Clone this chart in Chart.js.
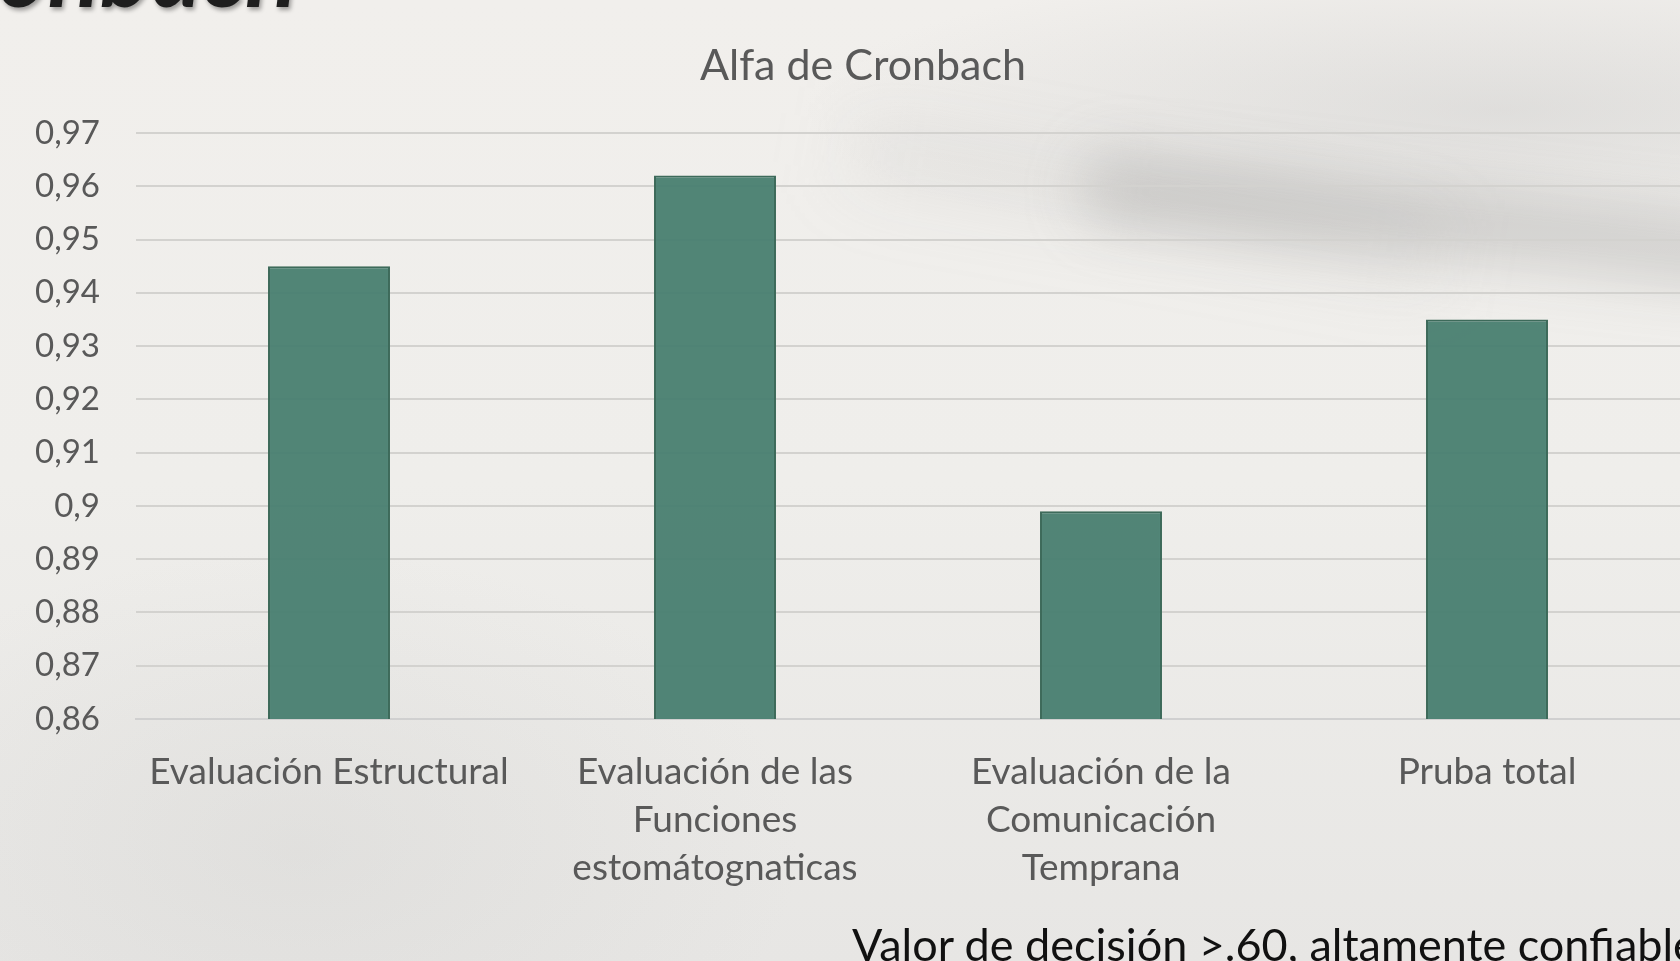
<!DOCTYPE html>
<html>
<head>
<meta charset="utf-8">
<script src="https://cdn.jsdelivr.net/npm/chart.js@4.4.1/dist/chart.umd.min.js"></script>
<style>
  html, body { margin:0; padding:0; }
  body {
    width:1680px; height:961px; overflow:hidden; position:relative;
    background:
      radial-gradient(ellipse 700px 150px at 1500px 110px, rgba(190,190,190,0.35), rgba(190,190,190,0) 100%),
      radial-gradient(ellipse 500px 300px at 300px 850px, rgba(200,200,198,0.25), rgba(200,200,198,0) 100%),
      linear-gradient(180deg, #f1efec 0%, #efeeeb 50%, #e7e6e4 100%);
  }
  #swoosh {
    position:absolute; left:1080px; top:150px; width:800px; height:70px;
    background: rgba(140,140,140,0.30); filter: blur(28px);
    transform: rotate(6deg); transform-origin: 0 50%;
    border-radius: 35px;
  }
  #swoosh2 {
    position:absolute; left:850px; top:120px; width:600px; height:60px;
    background: rgba(160,160,160,0.16); filter: blur(36px);
    transform: rotate(10deg); transform-origin: 0 50%;
  }
  #wrap { position:absolute; left:0; top:0; width:1726px; height:961px; }
  #heading {
    position:absolute; top:-78px; right:1383px; white-space:nowrap;
    font: italic bold 96px Lato, sans-serif; line-height:96px; color:#1e1e1e;
    text-shadow: 2px 3px 4px rgba(0,0,0,0.35);
  }
  #note {
    position:absolute; left:852px; top:914px; white-space:nowrap;
    font: 45px Lato, sans-serif; line-height:60px; color:#111;
  }
</style>
</head>
<body>
<div id="swoosh2"></div>
<div id="swoosh"></div>
<div id="heading">Alfa de Cronbach</div>
<div id="wrap"><canvas id="c" width="1726" height="961"></canvas></div>
<div id="note">Valor de decisión &gt;.60, altamente confiable</div>
<script>
const chartTitle = "Alfa de Cronbach";
const categories = [
  ["Evaluación Estructural"],
  ["Evaluación de las", "Funciones", "estomátognaticas"],
  ["Evaluación de la", "Comunicación", "Temprana"],
  ["Pruba total"]
];
const alphaValues = [0.945, 0.962, 0.899, 0.935];
const yMin = 0.86, yMax = 0.97, yStep = 0.01;

const titlePlugin = {
  id: 'centerTitle',
  afterDraw(chart) {
    const ctx = chart.ctx;
    ctx.save();
    ctx.font = '43px Lato, sans-serif';
    ctx.fillStyle = '#595959';
    ctx.textAlign = 'center';
    ctx.textBaseline = 'middle';
    ctx.fillText(chartTitle, 863, 66);
    ctx.restore();
  }
};

new Chart(document.getElementById('c'), {
  type: 'bar',
  data: {
    labels: categories,
    datasets: [{
      data: alphaValues,
      backgroundColor: 'rgba(72,126,112,0.95)',
      borderColor: '#3d6a5a',
      borderWidth: 2,
      borderSkipped: 'bottom',
      categoryPercentage: 1,
      barPercentage: 0.316
    }]
  },
  options: {
    responsive: false,
    animation: false,
    devicePixelRatio: 1,
    layout: { padding: { top: 133, left: 0, right: 46, bottom: 0 } },
    plugins: { legend: { display: false }, title: { display: false }, tooltip: { enabled: false } },
    scales: {
      x: {
        grid: { display: false, drawTicks: false },
        border: { display: true, color: '#d0d0d0', width: 2 },
        ticks: {
          color: '#595959', font: { family: 'Lato, sans-serif', size: 37, lineHeight: 1.3 },
          padding: 29, maxRotation: 0, autoSkip: false
        },
        afterFit(scale) { scale.height = 242; }
      },
      y: {
        min: yMin, max: yMax,
        grid: { color: '#d3d2cf', lineWidth: 2, drawTicks: false },
        border: { display: false },
        ticks: {
          stepSize: yStep, color: '#595959',
          font: { family: 'Lato, sans-serif', size: 33 },
          padding: 36,
          callback: v => String(Math.round(v * 100) / 100).replace('.', ',')
        },
        afterFit(scale) { scale.width = 136; }
      }
    }
  },
  plugins: [titlePlugin]
});
</script>
</body>
</html>
